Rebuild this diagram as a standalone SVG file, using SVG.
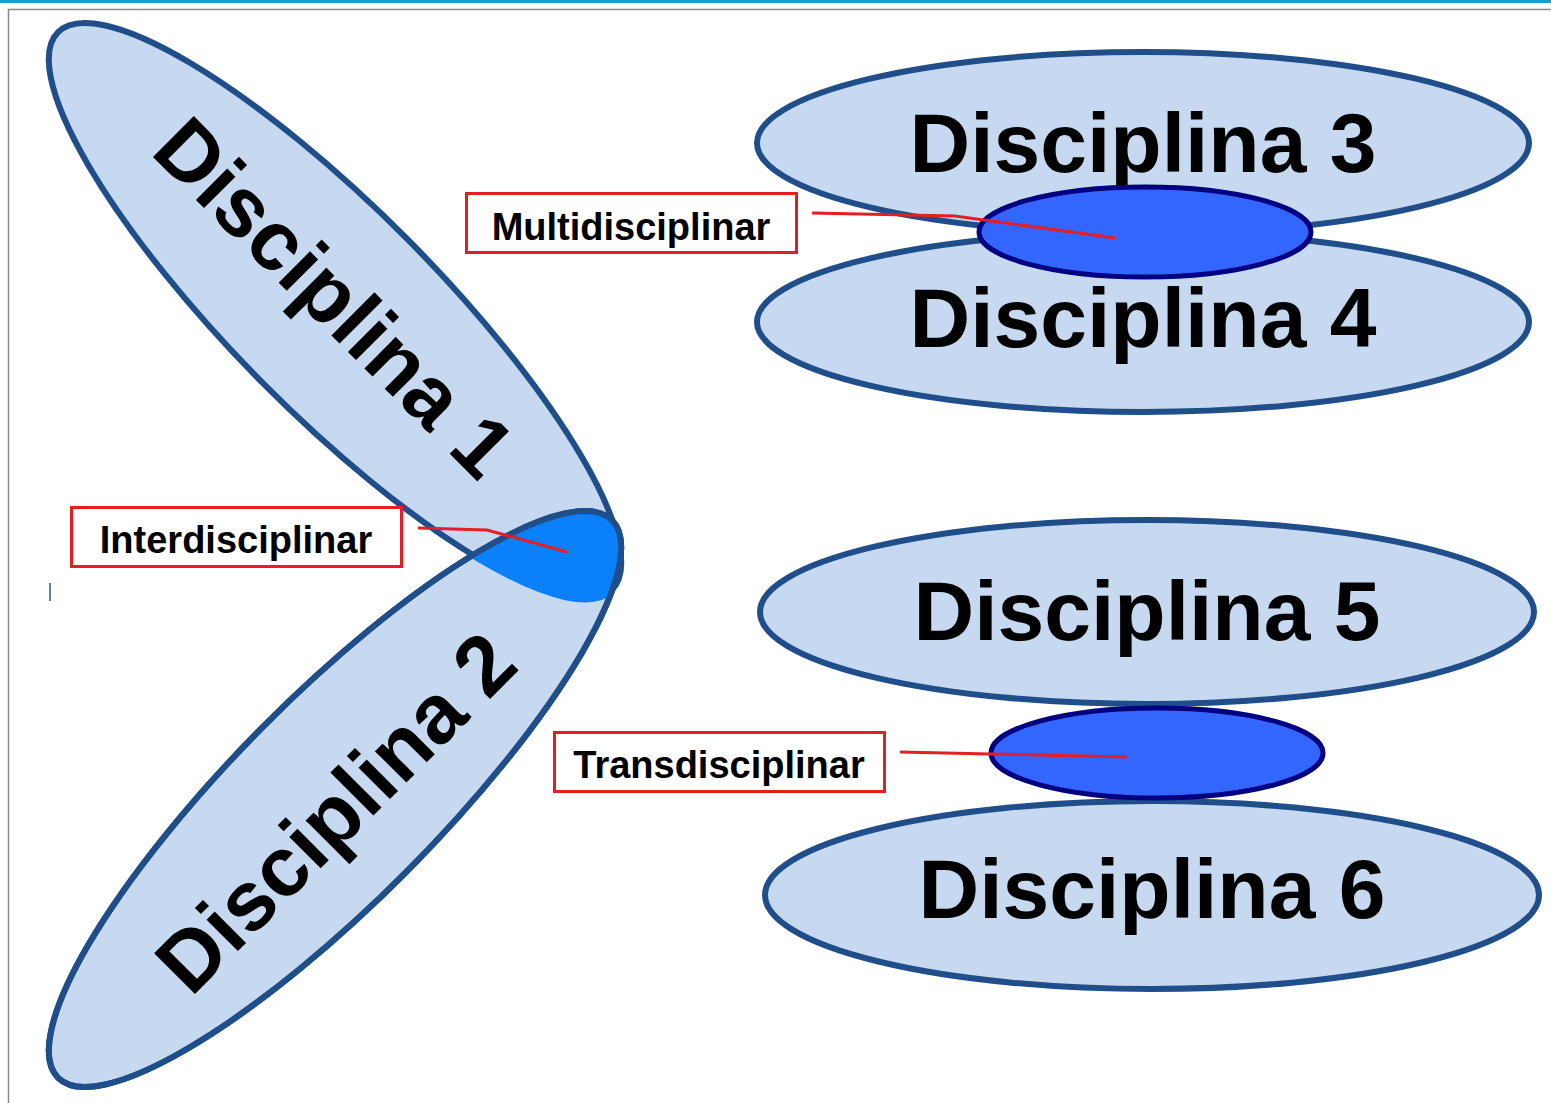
<svg xmlns="http://www.w3.org/2000/svg" width="1551" height="1103" viewBox="0 0 1551 1103">
<style>
.big{fill:#c6d9f0;stroke:#1f4e8a;stroke-width:6}
.bigline{fill:none;stroke:#1f4e8a;stroke-width:6}
.core{fill:#3366ff;stroke:#000080;stroke-width:5}
.dtxt{font-family:"Liberation Sans",Arial,sans-serif;font-weight:bold;font-size:84px;fill:#000;text-anchor:middle}
.box{fill:#fff;stroke:#e31e24;stroke-width:3}
.btxt{font-family:"Liberation Sans",Arial,sans-serif;font-weight:bold;font-size:38px;fill:#000;text-anchor:middle}
.conn{fill:none;stroke:#e31e24;stroke-width:3}
</style>
<defs>
<clipPath id="clipE2"><ellipse cx="335" cy="799" rx="393" ry="102" transform="rotate(-45.2 335 799)"/></clipPath>
</defs>
<rect width="1551" height="1103" fill="#fff"/>
<rect x="0" y="0" width="1551" height="3" fill="#15a0d2"/>
<line x1="8" y1="9.5" x2="1551" y2="9.5" stroke="#8a8a8a" stroke-width="1.5"/>
<line x1="8.5" y1="9" x2="8.5" y2="1103" stroke="#8a8a8a" stroke-width="1.5"/>
<line x1="50" y1="583" x2="50" y2="601" stroke="#2f5597" stroke-width="1.5"/>

<g id="disciplina1">
<ellipse class="big" cx="335" cy="311" rx="393" ry="102" transform="rotate(45.2 335 311)"/>
</g>
<g id="disciplina2">
<ellipse class="big" cx="335" cy="799" rx="393" ry="102" transform="rotate(-45.2 335 799)"/>
</g>
<g id="interdisciplinar-area">
<g clip-path="url(#clipE2)">
<ellipse cx="335" cy="311" rx="393" ry="102" transform="rotate(45.2 335 311)" fill="#0a80fa" stroke="#0a80fa" stroke-width="7"/>
</g>
<ellipse class="bigline" cx="335" cy="799" rx="393" ry="102" transform="rotate(-45.2 335 799)"/>
</g>
<text class="dtxt" transform="translate(314 318) rotate(45)">Disciplina 1</text>
<text class="dtxt" transform="translate(356 833) rotate(-45)">Disciplina 2</text>

<g id="disciplina3">
<ellipse class="big" cx="1143" cy="143" rx="386" ry="91"/>
<text class="dtxt" x="1143" y="172">Disciplina 3</text>
</g>
<g id="disciplina4">
<ellipse class="big" cx="1143" cy="322" rx="386" ry="90"/>
<text class="dtxt" x="1143" y="347">Disciplina 4</text>
</g>
<g id="multi-core">
<ellipse class="core" cx="1145" cy="232" rx="166" ry="45"/>
</g>

<g id="disciplina5">
<ellipse class="big" cx="1147" cy="612" rx="387" ry="92"/>
<text class="dtxt" x="1147" y="640">Disciplina 5</text>
</g>
<g id="disciplina6">
<ellipse class="big" cx="1152" cy="895" rx="387" ry="94"/>
<text class="dtxt" x="1152" y="918">Disciplina 6</text>
</g>
<g id="trans-core">
<ellipse class="core" cx="1157" cy="753" rx="166" ry="45"/>
</g>

<g id="connectors">
<polyline class="conn" points="812,213 955,216 1115,238"/>
<polyline class="conn" points="418,528 487,530 567,552"/>
<polyline class="conn" points="900,752 990,754 1127,757"/>
</g>

<g id="label-multidisciplinar">
<rect class="box" x="466.5" y="193.5" width="330" height="59"/>
<text class="btxt" x="631" y="240">Multidisciplinar</text>
</g>
<g id="label-interdisciplinar">
<rect class="box" x="71.5" y="507.5" width="330" height="59"/>
<text class="btxt" x="236" y="553">Interdisciplinar</text>
</g>
<g id="label-transdisciplinar">
<rect class="box" x="554.5" y="732.5" width="330" height="59"/>
<text class="btxt" x="719" y="778">Transdisciplinar</text>
</g>
</svg>
